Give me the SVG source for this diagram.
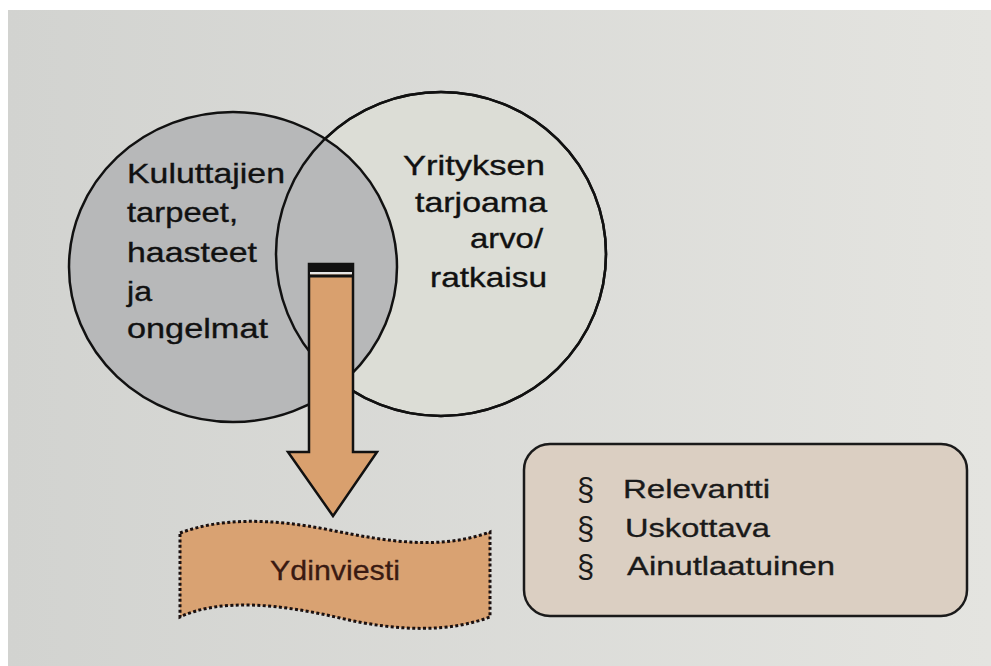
<svg xmlns="http://www.w3.org/2000/svg" width="991" height="666" viewBox="0 0 991 666">
<defs>
<linearGradient id="bg" x1="0" y1="0" x2="1" y2="0">
<stop offset="0" stop-color="#d2d3d0"/>
<stop offset="1" stop-color="#e4e4e0"/>
</linearGradient>
<style>
.t{font-family:"Liberation Sans",Arial,sans-serif;font-size:28px;fill:#111;stroke:#111;stroke-width:0.35;}
.b{font-family:"Liberation Sans",Arial,sans-serif;font-size:26px;fill:#1a1a1a;stroke:#1a1a1a;stroke-width:0.3;}
.s{font-family:"Liberation Sans",Arial,sans-serif;font-size:31px;fill:#1a1a1a;}
.ln{stroke:#111;stroke-width:2.5;}
</style>
</defs>
<rect x="0" y="0" width="991" height="666" fill="#ffffff"/>
<rect x="8" y="10" width="983" height="656" fill="url(#bg)"/>

<g id="venn-right">
<ellipse cx="441" cy="254" rx="165" ry="162" fill="#dcddd6" class="ln"/>
</g>
<g id="venn-left">
<ellipse cx="233" cy="267" rx="164" ry="155" fill="#b7b8b9" class="ln"/>
<ellipse cx="441" cy="254" rx="165" ry="162" fill="none" class="ln"/>
<text class="t" x="127" y="183" textLength="158" lengthAdjust="spacingAndGlyphs">Kuluttajien</text>
<text class="t" x="127" y="222" textLength="111" lengthAdjust="spacingAndGlyphs">tarpeet,</text>
<text class="t" x="127" y="262" textLength="130" lengthAdjust="spacingAndGlyphs">haasteet</text>
<text class="t" x="127" y="301" textLength="25" lengthAdjust="spacingAndGlyphs">ja</text>
<text class="t" x="127" y="338" textLength="141" lengthAdjust="spacingAndGlyphs">ongelmat</text>
</g>
<g id="venn-right-text">
<text class="t" x="403" y="175" textLength="142" lengthAdjust="spacingAndGlyphs">Yrityksen</text>
<text class="t" x="415" y="212" textLength="132" lengthAdjust="spacingAndGlyphs">tarjoama</text>
<text class="t" x="470" y="248" textLength="73" lengthAdjust="spacingAndGlyphs">arvo/</text>
<text class="t" x="430" y="287" textLength="117" lengthAdjust="spacingAndGlyphs">ratkaisu</text>
</g>

<g id="connectors">
<path d="M309,264 L353,264 L353,452 L377,452 L333,516 L288,452 L309,452 Z" fill="#d9a06e" stroke="#111" stroke-width="2.5" stroke-linejoin="miter"/>
<rect x="308" y="263" width="46" height="9" fill="#111"/>
<rect x="310" y="272" width="42" height="2.5" fill="#e6e6e6"/>
<rect x="308" y="274.5" width="46" height="3" fill="#111"/>
</g>

<g id="ydinviesti">
<path d="M180,533 C220,518 270,518 330,530 S440,550 490,532 L490,617 C450,632 400,632 340,618 S220,598 180,617 Z" fill="#d9a272" stroke="#1a1010" stroke-width="3" stroke-dasharray="3 2.4"/>
<text x="270" y="580" textLength="130" lengthAdjust="spacingAndGlyphs" style="font-family:'Liberation Sans',Arial,sans-serif;font-size:28px;fill:#3a1a12;stroke:#3a1a12;stroke-width:0.3;">Ydinviesti</text>
</g>

<g id="ominaisuudet">
<rect x="524" y="444" width="443" height="172" rx="26" ry="26" fill="#dbcfc2" stroke="#1a1a1a" stroke-width="2.5"/>
<text class="s" x="577" y="500">§</text>
<text class="b" x="623" y="498" textLength="147" lengthAdjust="spacingAndGlyphs">Relevantti</text>
<text class="s" x="577" y="539">§</text>
<text class="b" x="625" y="537" textLength="145" lengthAdjust="spacingAndGlyphs">Uskottava</text>
<text class="s" x="577" y="577">§</text>
<text class="b" x="627" y="575" textLength="208" lengthAdjust="spacingAndGlyphs">Ainutlaatuinen</text>
</g>
</svg>
